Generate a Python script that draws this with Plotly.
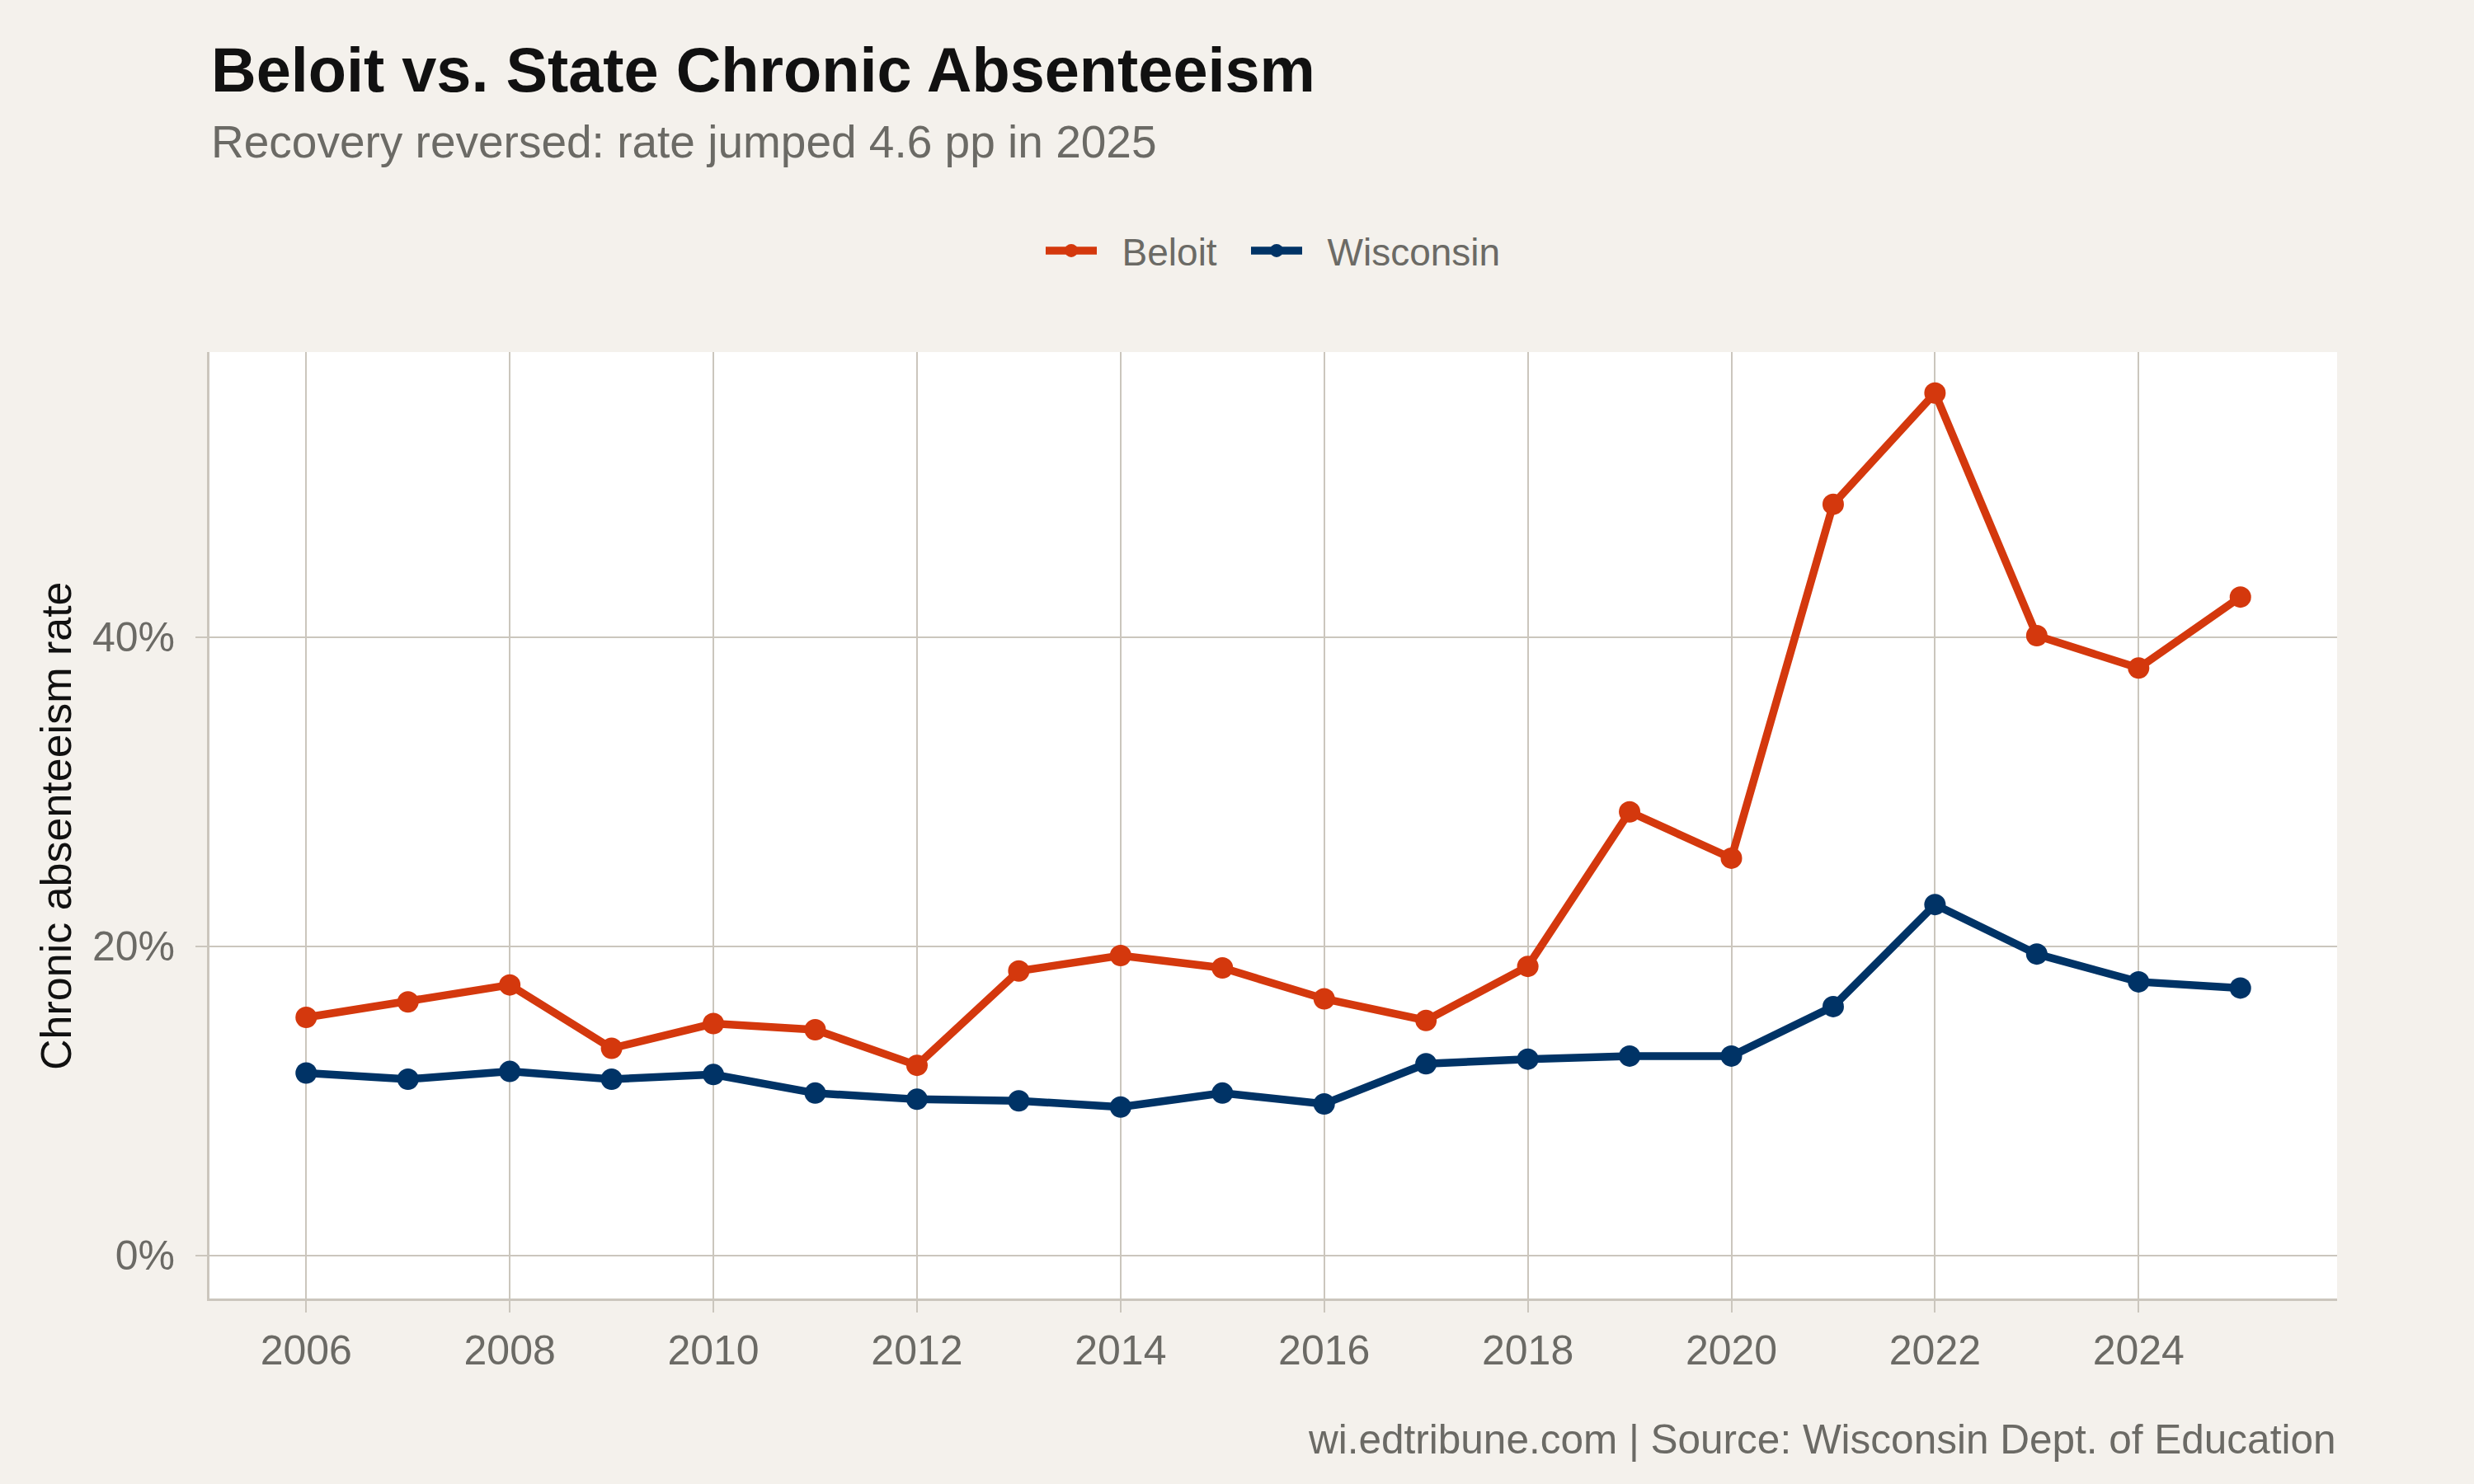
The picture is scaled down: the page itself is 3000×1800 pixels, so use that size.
import plotly.graph_objects as go

years = [2006, 2007, 2008, 2009, 2010, 2011, 2012, 2013, 2014, 2015,
         2016, 2017, 2018, 2019, 2020, 2021, 2022, 2023, 2024, 2025]
beloit = [15.4, 16.4, 17.5, 13.4, 15.0, 14.6, 12.3, 18.4, 19.4, 18.6,
          16.6, 15.2, 18.7, 28.7, 25.7, 48.6, 55.8, 40.1, 38.0, 42.6]
wisconsin = [11.8, 11.4, 11.9, 11.4, 11.7, 10.5, 10.1, 10.0, 9.6, 10.5,
             9.8, 12.4, 12.7, 12.9, 12.9, 16.1, 22.7, 19.5, 17.7, 17.3]

x_tickvals = [2006, 2008, 2010, 2012, 2014, 2016, 2018, 2020, 2022, 2024]
y_tickvals = [0, 20, 40]
y_ticktext = ["0%", "20%", "40%"]

title_text = "<b>Beloit vs. State Chronic Absenteeism</b>"
subtitle_text = "Recovery reversed: rate jumped 4.6 pp in 2025"
caption_text = "wi.edtribune.com | Source: Wisconsin Dept. of Education"
y_title = "Chronic absenteeism rate"

RED = "#D4380D"
BLUE = "#003366"
BG = "#F4F1EC"
GRID = "#CBC6BD"
GRAYTXT = "#6B6A65"
FONT = "Liberation Sans"

W, H = 3000, 1800
L, R, T, B = 254, 166, 427, 225
plot_h = H - T - B
plot_w = W - L - R


def py(pix):
    return (H - B - pix) / plot_h


def px(pix):
    return (pix - L) / plot_w


PAD = "\u00a0\u00a0"  # small gap between legend key and label

fig = go.Figure()
series = [("Beloit", beloit, RED, "legend"), ("Wisconsin", wisconsin, BLUE, "legend2")]
for name, vals, col, lg in series:
    fig.add_trace(go.Scatter(
        x=years, y=vals, name=PAD + name, mode="lines+markers",
        line=dict(color=col, width=9.5),
        marker=dict(color=col, size=26),
        legend=lg,
    ))

xmin, xmax = min(years), max(years)
xpad = 0.05 * (xmax - xmin)
ymax = max(max(beloit), max(wisconsin))
ypad = 0.05 * ymax

legend_common = dict(
    orientation="h", xanchor="left", y=py(304), yanchor="middle",
    font=dict(size=46, color=GRAYTXT, family=FONT),
    bgcolor="rgba(0,0,0,0)", itemwidth=62,
)

fig.update_layout(
    width=W, height=H,
    margin=dict(l=L, r=R, t=T, b=B, pad=0),
    paper_bgcolor=BG, plot_bgcolor="white",
    font=dict(family=FONT, color=GRAYTXT),
    showlegend=True,
    legend=dict(x=px(1263), **legend_common),
    legend2=dict(x=px(1512), **legend_common),
    xaxis=dict(
        range=[xmin - xpad, xmax + xpad],
        tickvals=x_tickvals,
        showgrid=True, gridcolor=GRID, gridwidth=2,
        zeroline=False,
        showline=True, linecolor=GRID, linewidth=3,
        ticks="outside", ticklen=14, tickwidth=2, tickcolor=GRID,
        tickfont=dict(size=50, color=GRAYTXT, family=FONT),
        ticklabelstandoff=3,
    ),
    yaxis=dict(
        range=[-ypad, ymax + ypad * 0.95],
        tickvals=y_tickvals, ticktext=y_ticktext,
        showgrid=True, gridcolor=GRID, gridwidth=2,
        zeroline=False,
        showline=True, linecolor=GRID, linewidth=3,
        ticks="outside", ticklen=14, tickwidth=2, tickcolor=GRID,
        tickfont=dict(size=50, color=GRAYTXT, family=FONT),
        ticklabelstandoff=15,
    ),
    annotations=[
        dict(text=title_text, xref="paper", yref="paper", x=0, y=py(85),
             xanchor="left", yanchor="middle", showarrow=False,
             font=dict(size=75.7, color="#111111", family=FONT)),
        dict(text=subtitle_text, xref="paper", yref="paper", x=0, y=py(172),
             xanchor="left", yanchor="middle", showarrow=False,
             font=dict(size=55, color=GRAYTXT, family=FONT)),
        dict(text=caption_text, xref="paper", yref="paper", x=1, y=py(1745),
             xanchor="right", yanchor="middle", showarrow=False,
             font=dict(size=49.5, color=GRAYTXT, family=FONT)),
        dict(text=y_title, xref="paper", yref="paper", x=px(68), y=0.5,
             xanchor="center", yanchor="middle", showarrow=False, textangle=-90,
             font=dict(size=52, color="#111111", family=FONT)),
    ],
)

fig.write_html("out.html")
